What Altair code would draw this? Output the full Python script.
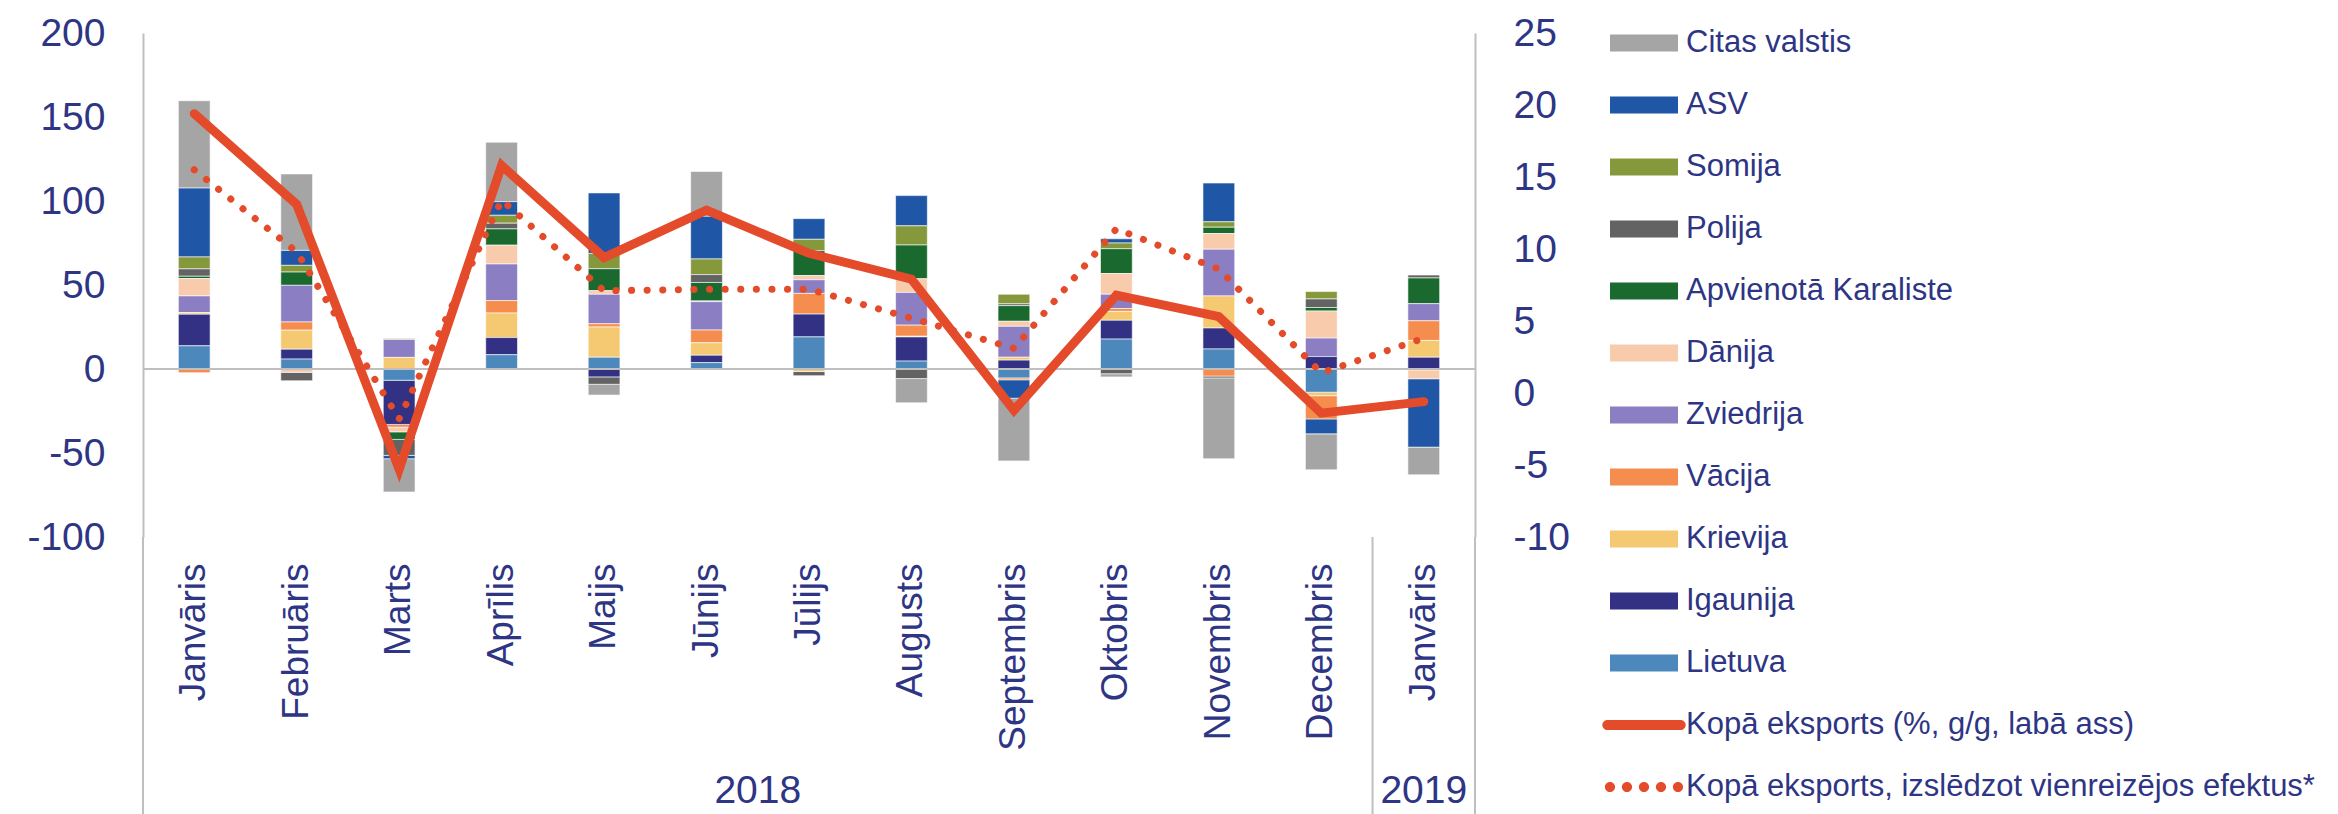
import altair as alt
import pandas as pd

MONTHS = ["Janvāris 2018", "Februāris 2018", "Marts 2018", "Aprīlis 2018", "Maijs 2018",
          "Jūnijs 2018", "Jūlijs 2018", "Augusts 2018", "Septembris 2018", "Oktobris 2018",
          "Novembris 2018", "Decembris 2018", "Janvāris 2019"]

COUNTRIES = ["Citas valstis", "ASV", "Somija", "Polija", "Apvienotā Karaliste", "Dānija",
             "Zviedrija", "Vācija", "Krievija", "Igaunija", "Lietuva"]
COLORS = ["#A5A5A5", "#1F56A6", "#85993C", "#636363", "#1A6A30", "#F7CBAC",
          "#8B7EC3", "#F48D4D", "#F5C872", "#323184", "#4C88BB"]

LIETUVA = [13.8, 5.9, -6.7, 8.5, 7.0, 3.8, 19.1, 4.7, -5.3, 17.8, 11.9, -13.8, -0.5]
IGAUNIJA = [18.8, 5.9, -26.3, 10.2, -4.7, 4.4, 13.6, 14.4, 5.3, 11.2, 12.5, 7.4, 7.0]
KRIEVIJA = [1.0, 11.3, 6.9, 14.6, 18.0, 7.4, -1.5, 0.4, 1.7, 5.3, 19.1, -2.1, 10.0]
VACIJA = [-2.2, 4.9, -1.6, 7.4, 1.9, 7.6, 12.3, 6.6, -1.1, 1.7, -4.2, -13.8, 11.7]
ZVIEDRIJA = [9.9, 21.8, 10.7, 21.8, 17.6, 16.9, 8.1, 19.5, 18.4, 8.5, 27.8, 11.0, 10.2]
DANIJA = [10.3, -2.0, -2.8, 11.2, 2.1, 0.4, 2.5, 8.1, 3.0, 12.3, 9.3, 16.1, -5.3]
APV_KARALISTE = [1.4, 7.9, -4.5, 9.7, 13.1, 11.0, 14.8, 20.1, 9.3, 14.8, 3.8, 2.1, 15.3]
POLIJA = [4.4, -5.0, -9.5, 3.4, -4.4, 4.7, -2.5, -5.7, 1.1, -2.8, -1.1, 5.1, 1.7]
SOMIJA = [7.1, 4.0, 0.6, 4.7, 9.1, 9.3, 6.8, 11.4, 5.7, 3.4, 3.2, 4.4, 0.0]
ASV = [41.0, 8.9, -2.0, 8.1, 36.0, 25.4, 12.3, 18.0, -11.0, 2.5, 23.1, -8.9, -40.7]
CITAS = [52.0, 45.5, -19.8, 35.4, -6.4, 26.7, 0.0, -14.4, -37.3, -1.9, -48.1, -21.4, -16.5]

KOPA = [19.4, 13.1, -5.3, 15.8, 9.4, 12.7, 9.7, 7.9, -1.2, 6.8, 5.3, -1.4, -0.6]
KOPA_BEZ = [15.5, 9.8, -1.8, 13.4, 7.1, 7.2, 7.2, 5.2, 3.1, 11.4, 8.6, 1.4, 3.8]

LINE_NAMES = ["Kopā eksports (%, g/g, labā ass)",
              "Kopā eksports, izslēdzot vienreizējos efektus*"]
YEAR_LABELS = ["2018", "2019"]

RED = "#E34B2B"
NAVY = "#2D3584"
GRID = "#BFBFBF"
FONT = "Liberation Sans"

series = {"Citas valstis": CITAS, "ASV": ASV, "Somija": SOMIJA, "Polija": POLIJA,
          "Apvienotā Karaliste": APV_KARALISTE, "Dānija": DANIJA, "Zviedrija": ZVIEDRIJA,
          "Vācija": VACIJA, "Krievija": KRIEVIJA, "Igaunija": IGAUNIJA, "Lietuva": LIETUVA}

rows = []
for rank, country in enumerate(COUNTRIES):
    for month, v in zip(MONTHS, series[country]):
        rows.append({"month": month, "country": country, "value": v,
                     "stack": len(COUNTRIES) - rank})
bars_df = pd.DataFrame(rows)
lines_df = pd.DataFrame({"month": MONTHS, "solid": KOPA, "dotted": KOPA_BEZ})
legend_df = pd.DataFrame({"name": COUNTRIES + LINE_NAMES,
                          "none": [float("nan")] * (len(COUNTRIES) + 2)})

RECT = "M-2,-0.5L2,-0.5L2,0.5L-2,0.5Z"
SOLID_PATH = "M-2.15,-0.3L2.15,-0.3A0.3,0.3 0 0 1 2.15,0.3L-2.15,0.3A0.3,0.3 0 0 1 -2.15,-0.3Z"
DOT_PATH = "".join(f"M{x - 0.3:.2f},0a0.3,0.3 0 1,0 0.6,0a0.3,0.3 0 1,0 -0.6,0Z"
                   for x in (-2, -1, 0, 1, 2))

COLOR_SCALE = alt.Scale(domain=COUNTRIES + LINE_NAMES, range=COLORS + [RED, RED])
SHAPE_SCALE = alt.Scale(domain=COUNTRIES + LINE_NAMES,
                        range=[RECT] * len(COUNTRIES) + [SOLID_PATH, DOT_PATH])
XSCALE = alt.Scale(paddingInner=0, paddingOuter=0)
LEFT_SCALE = alt.Scale(domain=[-100, 200], nice=False, zero=False)
RIGHT_SCALE = alt.Scale(domain=[-10, 25], nice=False, zero=False)

XAXIS = alt.Axis(title=None, labelAngle=270, labelExpr="split(datum.label, ' ')[0]",
                 ticks=False, domain=False, labelPadding=26, labelLimit=500,
                 labelFontSize=37, labelFont=FONT, labelColor=NAVY)
LEFT_AXIS = alt.Axis(title=None, values=[-100, -50, 0, 50, 100, 150, 200], grid=False,
                     ticks=False, domainColor=GRID, domainWidth=2, labelPadding=38,
                     labelExpr="'' + datum.value",
                     labelFontSize=39, labelFont=FONT, labelColor=NAVY)
RIGHT_AXIS = alt.Axis(title=None, orient="right", values=[-10, -5, 0, 5, 10, 15, 20, 25],
                      grid=False, ticks=False, domainColor=GRID, domainWidth=2,
                      labelExpr="'' + datum.value",
                      labelPadding=38, labelFontSize=39, labelFont=FONT, labelColor=NAVY)

LEGEND = alt.Legend(title=None, orient="none", legendX=1484, legendY=-7, padding=0,
                    labelFont=FONT, labelFontSize=31, labelColor=NAVY, labelLimit=900,
                    labelOffset=25, symbolSize=1156, symbolStrokeWidth=0, symbolOpacity=1,
                    rowPadding=30)


def xenc(axis=None, band=None):
    kw = {}
    if band is not None:
        kw["bandPosition"] = band
    if axis is not None:
        kw["axis"] = axis
    return alt.X("month:N", sort=MONTHS, scale=XSCALE, **kw)


legend_pts = alt.Chart(legend_df).mark_point(filled=True, opacity=1).encode(
    y=alt.Y("none:Q", scale=LEFT_SCALE),
    color=alt.Color("name:N", scale=COLOR_SCALE, legend=LEGEND),
    shape=alt.Shape("name:N", scale=SHAPE_SCALE, legend=LEGEND),
)

bars = alt.Chart(bars_df).mark_bar(width=alt.RelativeBandSize(0.31), stroke="white",
                                   strokeWidth=0.6).encode(
    x=xenc(XAXIS),
    y=alt.Y("value:Q", stack="zero", scale=LEFT_SCALE, axis=LEFT_AXIS),
    color=alt.Color("country:N", scale=COLOR_SCALE),
    order=alt.Order("stack:Q", sort="ascending"),
)

zero_rule = alt.Chart(pd.DataFrame({"z": [0]})).mark_rule(color=GRID, strokeWidth=2).encode(
    y=alt.Y("z:Q", scale=LEFT_SCALE))

edge_start = alt.Chart(pd.DataFrame({"month": ["Janvāris 2018", "Janvāris 2019"]})).mark_rule(
    color=GRID, strokeWidth=2).encode(x=xenc(band=0), y=alt.value(504), y2=alt.value(782))
edge_end = alt.Chart(pd.DataFrame({"month": ["Janvāris 2019"]})).mark_rule(
    color=GRID, strokeWidth=2).encode(x=xenc(band=1), y=alt.value(504), y2=alt.value(782))

year_2018 = alt.Chart(pd.DataFrame({"month": ["Jūlijs 2018"], "label": [YEAR_LABELS[0]]})).mark_text(
    font=FONT, fontSize=39, color=NAVY, baseline="middle").encode(
    x=xenc(band=0), y=alt.value(758), text="label:N")
year_2019 = alt.Chart(pd.DataFrame({"month": ["Janvāris 2019"], "label": [YEAR_LABELS[1]]})).mark_text(
    font=FONT, fontSize=39, color=NAVY, baseline="middle").encode(
    x=xenc(band=0.5), y=alt.value(758), text="label:N")

left = alt.layer(legend_pts, bars, zero_rule, edge_start, edge_end, year_2018, year_2019)

solid = alt.Chart(lines_df).mark_line(color=RED, strokeWidth=9, strokeJoin="miter",
                                      strokeCap="round").encode(
    x=xenc(), y=alt.Y("solid:Q", scale=RIGHT_SCALE, axis=RIGHT_AXIS))
dotted = alt.Chart(lines_df).mark_line(color=RED, strokeWidth=7, strokeDash=[0.1, 15.5],
                                       strokeCap="round").encode(
    x=xenc(), y=alt.Y("dotted:Q", scale=RIGHT_SCALE))
right = alt.layer(solid, dotted)

chart = alt.layer(left, right).resolve_scale(y="independent").properties(
    width=1332, height=504,
    padding={"left": 18, "top": 6, "right": 0, "bottom": 0},
).configure_view(stroke=None).configure_axis(labelFont=FONT)

chart.save("out.html", embed_options={"renderer": "svg", "actions": False})
